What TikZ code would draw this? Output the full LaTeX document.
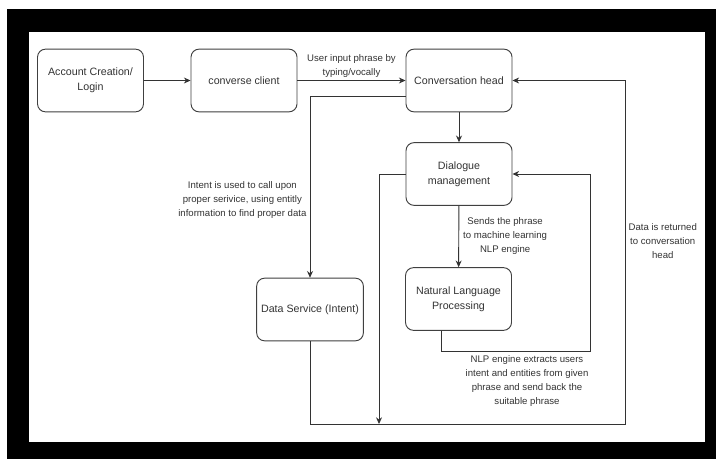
\documentclass[tikz,border=0pt]{standalone}
\usepackage{fontspec}
\setmainfont{Liberation Sans}
\usepackage{xcolor}
\usetikzlibrary{positioning,arrows.meta,calc}

\begin{document}
\begin{tikzpicture}[
    x=0.75pt, y=-0.75pt,
    >={Stealth[length=5pt,width=4.5pt]},
    font=\fontsize{8}{11}\selectfont,
    text=black!80,
    box/.style={
        draw=black!75,
        rounded corners=2.1mm,
        line width=0.7pt,
        minimum width=79.5pt,
        minimum height=47pt,
        align=center,
        fill=white
    },
    lbl/.style={
        font=\fontsize{7.2}{10.5}\selectfont,
        align=center,
        inner sep=1pt
    },
    arr/.style={->, line width=0.7pt, draw=black!80}
]

% frame
\useasboundingbox (0,0) rectangle (716,459);
\fill[white] (0,0) rectangle (716,459);
\fill[black] (7,9) rectangle (716,459);
\fill[white] (29,32) rectangle (705,442);

% first row
\node[box] (acct) at (90.5,80.5) {Account Creation/\\Login};
\node[box] (client) at (244,80.5) {converse client};
\node[box] (head) at (459,80.5) {Conversation head};

% middle column
\node[box] (dlg) at (459,174) {Dialogue\\management};
\node[box] (nlp) at (458.5,299) {Natural Language\\Processing};

% data side
\node[box] (ds) at (310,309.5) {Data Service (Intent)};

\coordinate (join) at (379,424);
\coordinate (br) at (625,424);
\coordinate (loop) at (590,351);

\draw[arr] (acct) -- (client);
\draw[arr] (client) -- node[lbl, above=1pt] (inlbl) {User input phrase by\\typing/vocally} (head);
\draw[arr] (head) -- (dlg);
\draw[arr] (dlg) -- node[lbl, right=2pt] (sendlbl) {Sends the phrase\\to machine learning\\NLP engine} (nlp);
\draw[arr] ($(head.west)+(0,15.5)$) -| (ds.north);
\draw[arr] (dlg.west) -| (join);
\draw[arr] ($(nlp.south)+(-17.5,0)$) |- (loop) |- (dlg.east);
\draw[arr] (ds.south) |- (br) |- (head.east);

% labels
\node[lbl, anchor=east] (intentlbl) at (308,200)
{Intent is used to call upon\\proper serivice, using entitly\\information to find proper data};
\node[lbl, anchor=west] (retlbl) at (627,241)
{Data is returned\\to conversation\\head};
\node[lbl] (nlplbl) at (527,381)
{NLP engine extracts users\\intent and entities from given\\phrase and send back the\\suitable phrase};

\end{tikzpicture}
\end{document}
